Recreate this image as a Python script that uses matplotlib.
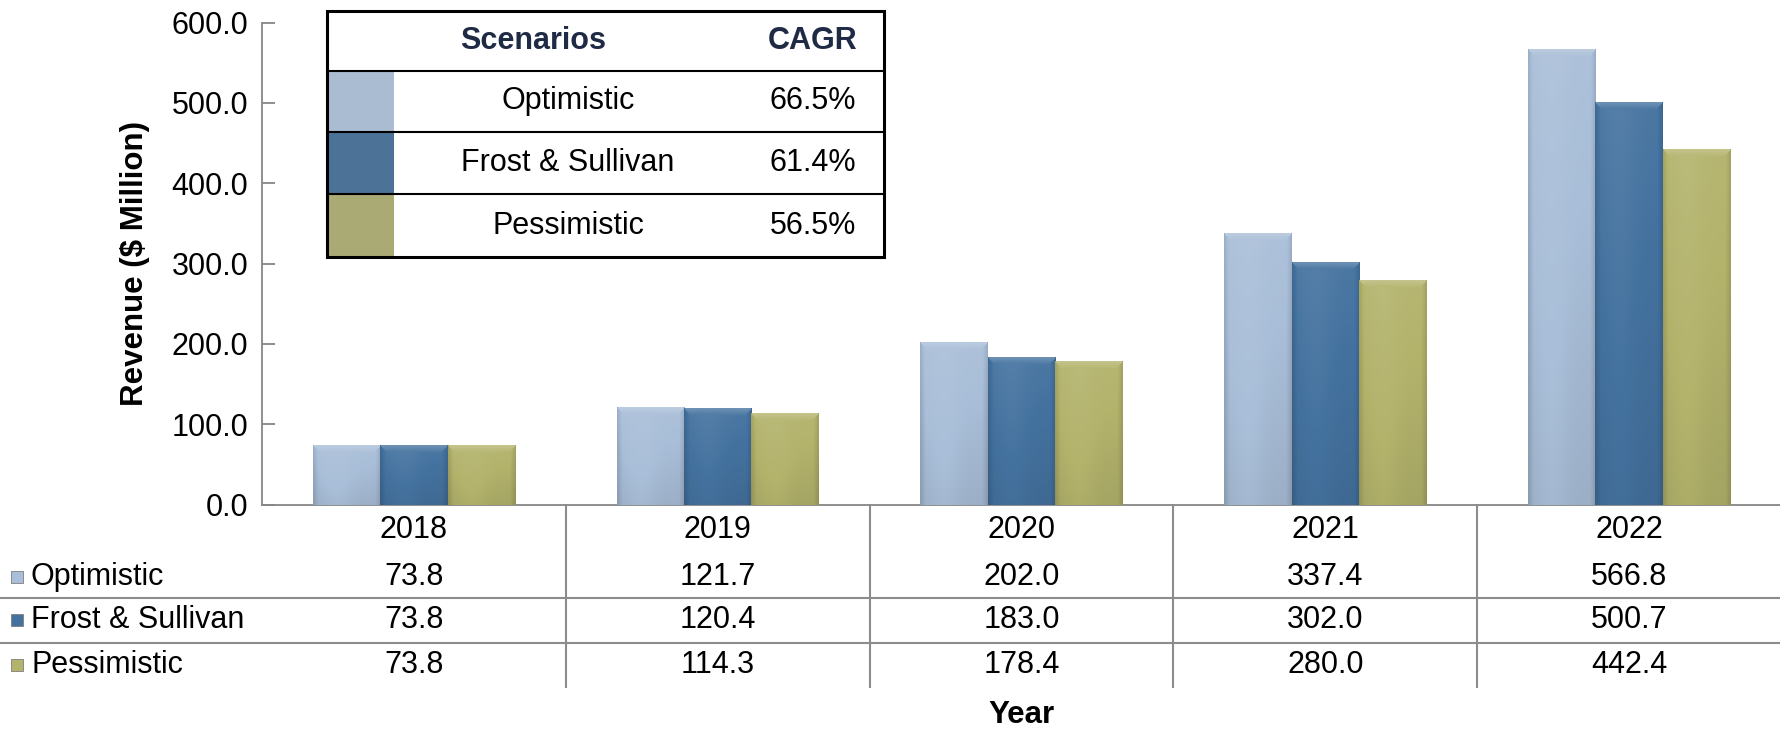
import numpy as np
import matplotlib
matplotlib.use("Agg")
import matplotlib.pyplot as plt
from matplotlib.patches import Rectangle
from matplotlib.lines import Line2D
from matplotlib.transforms import blended_transform_factory

plt.rcParams['font.family'] = ['Liberation Sans', 'DejaVu Sans']

years = ["2018", "2019", "2020", "2021", "2022"]
series = ["Optimistic", "Frost & Sullivan", "Pessimistic"]
optimistic = [73.8, 121.7, 202.0, 337.4, 566.8]
frost = [73.8, 120.4, 183.0, 302.0, 500.7]
pessimistic = [73.8, 114.3, 178.4, 280.0, 442.4]
cagr = ["66.5%", "61.4%", "56.5%"]

bar_colors = ["#A9BED8", "#44729F", "#B3B36C"]
swatch_colors = ["#A9BCD2", "#4D7298", "#AAAA74"]
values = [optimistic, frost, pessimistic]

FS = 22
W, H = 1781, 729
fig = plt.figure(figsize=(W / 100, H / 100), dpi=100)


def fy(px):
    return 1 - px / H


ax = fig.add_axes([262 / W, fy(504.5), 1 - 262 / W, (504.5 - 22.5) / H])
ax.set_xlim(-0.5, 4.5)
ax.set_ylim(0, 600)
ax.spines['top'].set_visible(False)
ax.spines['right'].set_visible(False)
for s in ['left', 'bottom']:
    ax.spines[s].set_color('#868686')
    ax.spines[s].set_linewidth(1.3)
ax.set_yticks(np.arange(0, 601, 100))
ax.set_yticklabels([f"{v:.1f}" for v in np.arange(0, 601, 100)], fontsize=FS)
ax.tick_params(axis='y', direction='in', length=9, width=1.3, color='#868686', pad=10)
ax.set_xticks([])
ax.set_ylabel("Revenue ($ Million)", fontsize=22.5, fontweight='bold')
ax.yaxis.set_label_coords(-(262 - 150) / (W - 262), 0.5)

x = np.arange(len(years))
bw = 0.222
fig.canvas.draw()


def shade(col, f):
    c = np.array(matplotlib.colors.to_rgb(col))
    if f >= 1:
        return c + (1 - c) * (f - 1)
    return c * f


for i, (vals, col) in enumerate(zip(values, bar_colors)):
    bars = ax.bar(x + (i - 1) * bw, vals, width=bw, color=col, zorder=2, linewidth=0)
    for b in bars:
        x0, h = b.get_x(), b.get_height()
        p0 = ax.transData.transform((x0, 0))
        p1 = ax.transData.transform((x0 + bw, h))
        npx = max(int(p1[1] - p0[1]), 2)
        nw = max(int(p1[0] - p0[0]), 2)
        xs = np.linspace(0, 1, nw)
        colf = 1.0 - 0.12 * np.clip(1 - np.minimum(xs, 1 - xs) / 0.08, 0, 1) + 0.05 * np.exp(-((xs - 0.35) / 0.25) ** 2)
        ys = np.arange(npx)
        rowf = 1.04 - 0.12 * ys / max(npx, 1)
        img = np.zeros((npx, nw, 3))
        for r in range(npx):
            f = rowf[r] * colf
            if r < 7:
                f = np.where((xs * nw > r) & ((1 - xs) * nw > r), 1.22 - r * 0.025, f)
            for k in range(3):
                img[r, :, k] = [shade(col, v)[k] for v in f]
        img = np.clip(img, 0, 1)
        im = ax.imshow(img[::-1], extent=(x0, x0 + bw, 0, h), origin='lower',
                       aspect='auto', interpolation='bilinear', zorder=3)
        im.set_clip_path(b)

# data table under the axis
bt = blended_transform_factory(ax.transData, fig.transFigure)
row_y = [530, 577, 620, 665]
for j, yr in enumerate(years):
    fig.text(x[j], fy(row_y[0]), yr, transform=bt, ha='center', va='center', fontsize=FS)
    for i, vals in enumerate(values):
        fig.text(x[j], fy(row_y[i + 1]), f"{vals[j]:.1f}", transform=bt,
                 ha='center', va='center', fontsize=FS)
for i, name in enumerate(series):
    fig.patches.append(Rectangle((11 / W, fy(row_y[i + 1] + 6)), 12 / W, 12 / H,
                                 transform=fig.transFigure, facecolor=bar_colors[i],
                                 edgecolor='#7F7F7F', linewidth=0.6))
    fig.text(31 / W, fy(row_y[i + 1]), name, ha='left', va='center', fontsize=FS)
for yy in [598, 643]:
    fig.lines.append(Line2D([0, 1], [fy(yy), fy(yy)], transform=fig.transFigure,
                            color='#8C8C8C', linewidth=1.5))
for xb in x[:-1] + 0.5:
    fig.lines.append(Line2D([xb, xb], [fy(505), fy(687)], transform=bt,
                            color='#8C8C8C', linewidth=1.5))
fig.text(0.5 * (262 + W) / W, fy(715), "Year", ha='center', va='center',
         fontsize=22.5, fontweight='bold')

# CAGR inset table
tx0, tx1, ty0, ty1 = 327, 884, 10.7, 257
tab = fig.add_axes([tx0 / W, fy(ty1), (tx1 - tx0) / W, (ty1 - ty0) / H])
tw, th = tx1 - tx0, ty1 - ty0
tab.set_xlim(0, tw)
tab.set_ylim(th, 0)
tab.axis('off')
tab.add_patch(Rectangle((0, 0), tw, th, facecolor='white', edgecolor='none'))
rows = [0, 60, 121.5, 183.5, th]
for i in range(3):
    tab.add_patch(Rectangle((0, rows[i + 1]), 67, rows[i + 2] - rows[i + 1],
                            facecolor=swatch_colors[i], edgecolor='none'))
    yc = (rows[i + 1] + rows[i + 2]) / 2
    tab.text(241, yc, series[i], ha='center', va='center', fontsize=FS)
    tab.text(486, yc, cagr[i], ha='center', va='center', fontsize=FS)
tab.text(206, 30, "Scenarios", ha='center', va='center', fontsize=FS,
         fontweight='bold', color='#1F2A44')
tab.text(486, 30, "CAGR", ha='center', va='center', fontsize=FS,
         fontweight='bold', color='#1F2A44')
for ry in rows[1:-1]:
    tab.plot([0, tw], [ry, ry], color='black', linewidth=1.5)
tab.add_patch(Rectangle((0, 0), tw, th, facecolor='none', edgecolor='black',
                        linewidth=2.2, clip_on=False))

fig.savefig("out.png", dpi=100)
